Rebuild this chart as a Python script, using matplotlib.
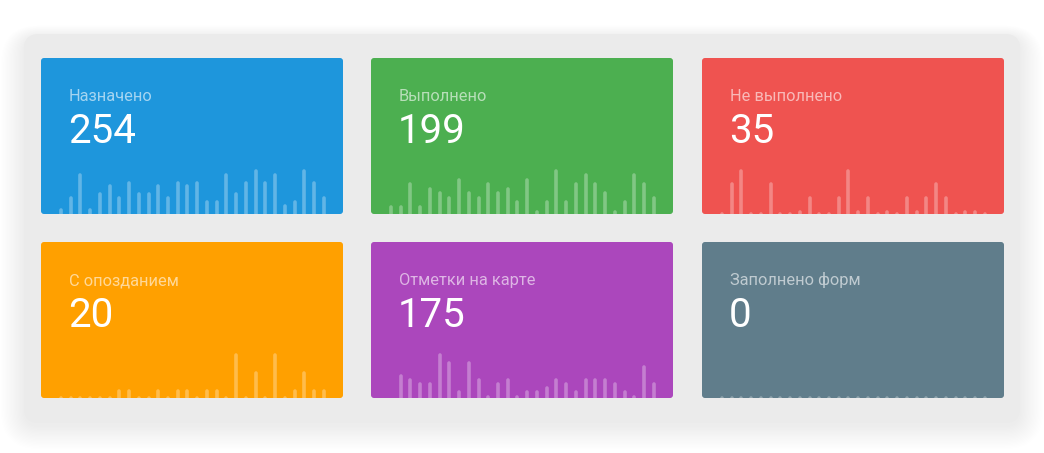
import matplotlib
matplotlib.use("Agg")
import matplotlib.pyplot as plt
from matplotlib.patches import FancyBboxPatch
import numpy as np

plt.rcParams['font.family'] = ['Roboto', 'DejaVu Sans']

# ---- data ----
titles = ["Назначено", "Выполнено", "Не выполнено",
          "С опозданием", "Отметки на карте", "Заполнено форм"]
totals = ["254", "199", "35", "20", "175", "0"]

assigned = [4, 7, 13, 4, 8, 10, 7, 11, 8, 8, 10, 7, 11, 10, 11, 6, 6, 13, 8, 11, 14, 11, 13, 5, 6, 14, 11, 7]
done = [4, 4, 9, 4, 8, 7, 6, 10, 7, 6, 9, 7, 8, 5, 10, 3, 5, 12, 5, 9, 11, 9, 7, 3, 5, 11, 9, 6]
not_done = [0, 3, 4, 0, 0, 3, 0, 0, 1, 2, 0, 0, 2, 4, 1, 2, 0, 1, 0, 2, 1, 2, 3, 2, 0, 1, 1, 0]
late = [0, 0, 0, 0, 0, 0, 1, 1, 0, 0, 1, 0, 1, 1, 0, 1, 1, 0, 3, 0, 2, 0, 3, 0, 1, 2, 1, 1]
map_marks = [None, 8, 7, 6, 6, 13, 11, 4, 11, 7, 3, 6, 7, 3, 4, 4, 5, 7, 6, 4, 7, 7, 7, 6, 4, 3, 10, 6]
forms = [0] * 28

series = [assigned, done, not_done, late, map_marks, forms]
colors = ["#1e96dc", "#4caf50", "#ef5350", "#ffa000", "#ab47bc", "#607d8b"]

# ---- layout (pixels) ----
W, H = 1044, 453
fig = plt.figure(figsize=(W / 100, H / 100), dpi=100)
fig.patch.set_facecolor("white")
bg = fig.add_axes([0, 0, 1, 1])
bg.set_xlim(0, W)
bg.set_ylim(H, 0)
bg.axis("off")

# panel shadow (soft, diffuse, slightly downward)
px0, py0, px1, py1 = 24, 34, 1020, 423
for k in range(18):
    pad = 1 + k * 1.3
    sh = FancyBboxPatch((px0 - pad, py0 - pad * 0.5 + 3), (px1 - px0) + pad * 2, (py1 - py0) + pad * 1.5,
                        boxstyle="round,pad=0,rounding_size=%f" % (15 + pad),
                        facecolor="black", edgecolor="none", alpha=0.003, zorder=0)
    bg.add_patch(sh)
panel = FancyBboxPatch((px0, py0), px1 - px0, py1 - py0,
                       boxstyle="round,pad=0,rounding_size=15",
                       facecolor="#ebebeb", edgecolor="none", zorder=1)
bg.add_patch(panel)

card_x = [41, 371, 702]
card_y = [58, 242]
card_w, card_h = 302, 156

step = 9.73
for idx in range(6):
    r, c = divmod(idx, 3)
    cx, cy = card_x[c], card_y[r]
    card = FancyBboxPatch((cx, cy), card_w, card_h,
                          boxstyle="round,pad=0,rounding_size=3",
                          facecolor=colors[idx], edgecolor="none", zorder=2)
    bg.add_patch(card)
    bg.text(cx + 28, cy + 43, titles[idx], fontsize=11.8, color="white", alpha=0.6,
            va="baseline", ha="left", zorder=3)
    bg.text(cx + 27, cy + 85, totals[idx], fontsize=29, color="white",
            va="baseline", ha="left", zorder=3)

    vals = np.array([np.nan if v is None else v for v in series[idx]], dtype=float)
    n = len(vals)
    vmax = np.nanmax(vals)
    if vmax <= 0:
        vmax = 1.0
    cb = cy + card_h            # card bottom px
    zero_px = cb + 11
    span = 54.0
    ax_h = 75.0
    left = cx + 20 - step / 2
    ax = fig.add_axes([left / W, (H - zero_px) / H, (n * step) / W, ax_h / H])
    ax.set_xlim(-0.5, n - 0.5)
    ax.set_ylim(0, vmax * ax_h / span)
    ax.axis("off")
    ax.patch.set_visible(False)
    floor = vmax * 11.0 / span
    xs = np.arange(n)
    for x, v in zip(xs, vals):
        if np.isnan(v):
            continue
        top = max(v, floor)
        ln, = ax.plot([x, x], [0, top], color="white", alpha=0.3, lw=2.6,
                      solid_capstyle="round", zorder=4)
        ln.set_clip_path(card)

fig.savefig("out.png", dpi=100, facecolor="white")
